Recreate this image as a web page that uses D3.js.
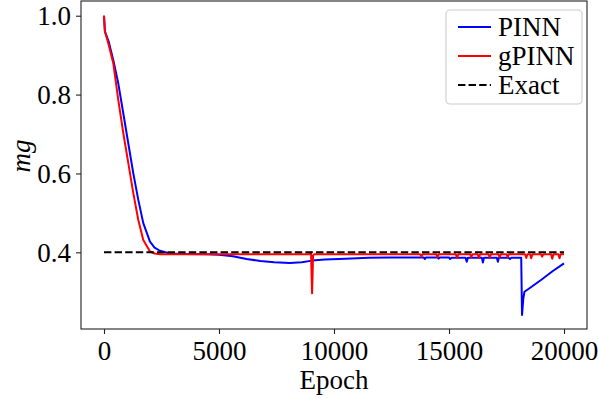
<!DOCTYPE html>
<html>
<head>
<meta charset="utf-8">
<script src="https://cdn.jsdelivr.net/npm/d3@7"></script>
</head>
<body style="margin:0;background:#fff">
<svg id="chart" width="598" height="398" font-family="Liberation Serif" style="display:block"></svg>
<script>
// ---------- data ----------
const pinnEpoch = [0, 40, 200, 405, 622, 840, 1057, 1274, 1491, 1708, 1998, 2200, 2432, 2866, 3500, 4500, 5000, 5600, 6200, 6800, 7400, 8078, 8600, 9050, 9600, 10500, 11500, 12400, 13300, 13900, 13950, 14000, 14500, 14550, 14600, 15000, 15050, 15100, 15720, 15770, 15820, 16430, 16475, 16520, 17080, 17125, 17170, 17600, 17650, 17700, 18140, 18175, 18230, 18280, 18500, 19000, 19500, 20000];
const pinnMg    = [1.0, 0.96, 0.935, 0.887, 0.828, 0.752, 0.676, 0.600, 0.533, 0.474, 0.427, 0.412, 0.404, 0.397, 0.396, 0.395, 0.394, 0.390, 0.383, 0.378, 0.375, 0.373, 0.375, 0.379, 0.382, 0.384, 0.386, 0.387, 0.387, 0.387, 0.383, 0.387, 0.387, 0.384, 0.387, 0.387, 0.383, 0.386, 0.386, 0.376, 0.386, 0.386, 0.374, 0.386, 0.386, 0.376, 0.386, 0.386, 0.383, 0.386, 0.386, 0.241, 0.282, 0.300, 0.309, 0.330, 0.352, 0.372];

const gpinnEpoch = [0, 40, 187, 405, 622, 840, 1057, 1274, 1491, 1708, 1998, 2200, 2432, 3000, 5000, 8950, 9000, 9048, 9090, 9140, 11000, 12500, 13750, 13800, 13850, 14450, 14500, 14550, 15300, 15350, 15400, 15920, 15970, 16020, 16250, 16300, 16350, 16720, 16770, 16820, 17150, 17200, 17250, 17500, 17550, 17600, 18310, 18360, 18410, 18525, 18575, 18625, 19000, 19050, 19100, 19440, 19490, 19540, 19755, 19805, 19855, 20000];
const gpinnMg    = [1.0, 0.96, 0.930, 0.879, 0.786, 0.702, 0.626, 0.550, 0.482, 0.431, 0.402, 0.397, 0.395, 0.395, 0.395, 0.395, 0.400, 0.296, 0.392, 0.395, 0.395, 0.395, 0.395, 0.389, 0.395, 0.395, 0.387, 0.395, 0.395, 0.386, 0.395, 0.395, 0.388, 0.395, 0.395, 0.386, 0.395, 0.395, 0.387, 0.395, 0.395, 0.387, 0.395, 0.395, 0.388, 0.395, 0.395, 0.386, 0.395, 0.395, 0.385, 0.395, 0.395, 0.389, 0.395, 0.395, 0.384, 0.395, 0.395, 0.385, 0.395, 0.395];

const exactEpoch = [0, 20000];
const exactMg    = [0.4, 0.4];

const xTicks = [0, 5000, 10000, 15000, 20000];
const yTicks = [0.4, 0.6, 0.8, 1.0];
const seriesNames = ["PINN", "gPINN", "Exact"];
const seriesColors = ["#0000ff", "#ff0000", "#000000"];

// ---------- layout ----------
const svg = d3.select("#chart");
const plot = { left: 81, right: 587, top: 1, bottom: 329 };

const x = d3.scaleLinear().domain([-1000, 21000]).range([plot.left, plot.right]);
const y = d3.scaleLinear().domain([0.2056, 1.0373]).range([plot.bottom, plot.top]);

const zip = (a, b) => a.map((v, i) => [v, b[i]]);
const line = d3.line().x(d => x(d[0])).y(d => y(d[1]));

function txt(sel) {
  return sel.attr("font-family", "Liberation Serif").attr("font-size", 27).attr("fill", "#000");
}

const g = svg.append("g");

svg.append("defs").append("clipPath").attr("id", "clip")
  .append("rect").attr("x", plot.left).attr("y", plot.top)
  .attr("width", plot.right - plot.left).attr("height", plot.bottom - plot.top);

const lines = g.append("g").attr("clip-path", "url(#clip)");
lines.append("path").datum(zip(pinnEpoch, pinnMg))
  .attr("d", line).attr("fill", "none").attr("stroke", seriesColors[0])
  .attr("stroke-width", 2).attr("stroke-linejoin", "round");
lines.append("path").datum(zip(gpinnEpoch, gpinnMg))
  .attr("d", line).attr("fill", "none").attr("stroke", seriesColors[1])
  .attr("stroke-width", 2).attr("stroke-linejoin", "round");
lines.append("path").datum(zip(exactEpoch, exactMg))
  .attr("d", line).attr("fill", "none").attr("stroke", seriesColors[2])
  .attr("stroke-width", 2).attr("stroke-dasharray", "7.4,3.2");

// axes
const xAxis = d3.axisBottom(x).tickValues(xTicks).tickSize(5).tickPadding(7).tickFormat(d3.format("d"));
const yAxis = d3.axisLeft(y).tickValues(yTicks).tickSize(5).tickPadding(5).tickFormat(d3.format(".1f"));

const gx = g.append("g").attr("transform", `translate(0,${plot.bottom})`).call(xAxis);
const gy = g.append("g").attr("transform", `translate(${plot.left},0)`).call(yAxis);
[gx, gy].forEach(a => {
  a.attr("font-family", "Liberation Serif").attr("font-size", 27);
  a.select(".domain").remove();
  a.selectAll(".tick line").attr("stroke", "#222").attr("stroke-width", 1.1);
  txt(a.selectAll(".tick text"));
});
gx.selectAll(".tick text").attr("dy", "0.71em");
gy.selectAll(".tick text").attr("dy", "0.34em");

// frame
g.append("rect").attr("x", plot.left).attr("y", plot.top)
  .attr("width", plot.right - plot.left).attr("height", plot.bottom - plot.top)
  .attr("fill", "none").attr("stroke", "#222").attr("stroke-width", 1.1);

// axis labels
txt(g.append("text")).attr("x", (plot.left + plot.right) / 2).attr("y", 389)
  .attr("text-anchor", "middle").text("Epoch");
txt(g.append("text")).attr("transform", "translate(30,156) rotate(-90)")
  .attr("text-anchor", "middle").attr("font-style", "italic").text("mg");

// legend
const lg = g.append("g");
lg.append("rect").attr("x", 446).attr("y", 10).attr("width", 136).attr("height", 94)
  .attr("rx", 4).attr("fill", "#fff").attr("fill-opacity", 0.8)
  .attr("stroke", "#cccccc").attr("stroke-width", 1.1);
const legY = [27, 56, 85];
seriesNames.forEach((name, i) => {
  const l = lg.append("line").attr("x1", 458).attr("x2", 491).attr("y1", legY[i]).attr("y2", legY[i])
    .attr("stroke", seriesColors[i]).attr("stroke-width", 2);
  if (i === 2) l.attr("stroke-dasharray", "7.4,3.2");
  txt(lg.append("text")).attr("x", 498).attr("y", legY[i] + 9).text(name);
});
</script>
</body>
</html>
